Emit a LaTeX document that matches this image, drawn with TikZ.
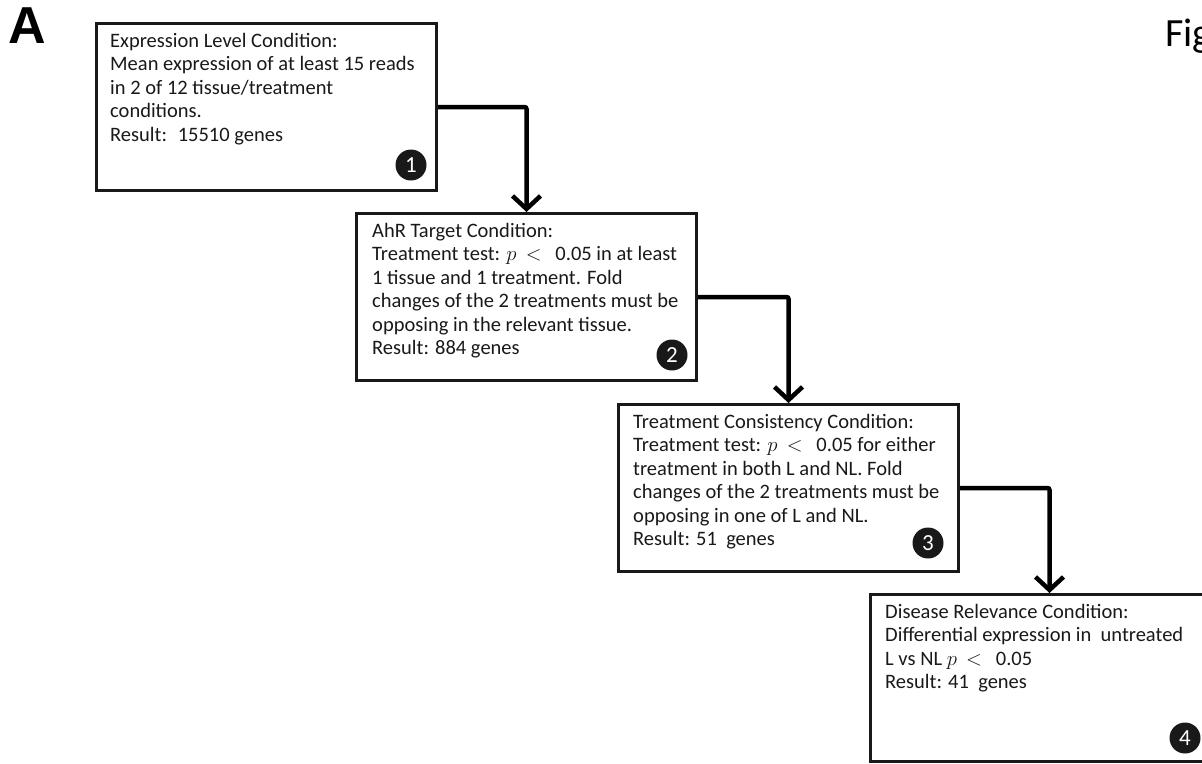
\documentclass[tikz,border=0pt]{standalone}
\usepackage{fontspec}
\setmainfont{Carlito}
\newfontfamily\panelfont{Liberation Sans}
\usetikzlibrary{arrows.meta,positioning}

\begin{document}
\begin{tikzpicture}[x=1pt,y=-1pt,
    condbox/.style={draw=black!90, line width=3pt, minimum width=340pt, minimum height=167pt, anchor=north west, inner sep=0pt},
    condtext/.style={anchor=north west, align=left, inner sep=0pt, text=black!90, font=\fontsize{20.5}{23.5}\selectfont},
    stepnum/.style={circle, fill=black!90, text=white, minimum size=31pt, inner sep=0pt, font=\fontsize{23}{23}\selectfont},
    flow/.style={line width=4.5pt, rounded corners=2pt, -{Straight Barb[length=13pt,width=28pt]}}]
    \useasboundingbox (0,0) rectangle (1202,763);
    \clip (0,0) rectangle (1202,763);

    % Panel letter and title
    \node[anchor=north west, inner sep=0pt] (panel) at (8,8) {\panelfont\bfseries\fontsize{52}{52}\selectfont A};
    \node[anchor=north west, inner sep=0pt, font=\fontsize{40}{40}\selectfont] (fig) at (1165,19) {Fig};

    % Condition boxes
    \node[condbox] (c1) at (95,22) {};
    \node[condbox] (c2) at (355,212) {};
    \node[condbox] (c3) at (617,403) {};
    \node[condbox, minimum width=358pt] (c4) at (869,593) {};

    % Box texts
    \node[condtext] (t1) at ([shift={(15,11)}]c1.north west) {Expression Level Condition:\\
        Mean expression of at least 15 reads\\
        in 2 of 12 tissue/treatment\\
        conditions.\\
        Result:~ 15510 genes};
    \node[condtext] (t2) at ([shift={(17,11)}]c2.north west) {AhR Target Condition:\\
        Treatment test: $p$~~$<$~~~0.05 in at least\\
        1 tissue and 1 treatment. Fold\\
        changes of the 2 treatments must be\\
        opposing in the relevant tissue.\\
        Result: 884 genes};
    \node[condtext] (t3) at ([shift={(16,11)}]c3.north west) {Treatment Consistency Condition:\\
        Treatment test: $p$~~$<$~~~0.05 for either\\
        treatment in both L and NL. Fold\\
        changes of the 2 treatments must be\\
        opposing in one of L and NL.\\
        Result: 51~ genes};
    \node[condtext] (t4) at ([shift={(16,11)}]c4.north west) {Disease Relevance Condition:\\
        Differential expression in~ untreated\\
        L vs NL $p$~~$<$~~~0.05\\
        Result: 41~ genes};

    % Step numbers
    \node[stepnum] (n1) at (411,165) {1};
    \node[stepnum] (n2) at (672,355) {2};
    \node[stepnum] (n3) at (928,543) {3};
    \node[stepnum] (n4) at (1185,738) {4};

    % Connectors
    \draw[flow] (c1.east) -| (c2.north);
    \draw[flow] (c2.east) -| (c3.north);
    \draw[flow] (c3.east) -| (c4.north);
\end{tikzpicture}
\end{document}
